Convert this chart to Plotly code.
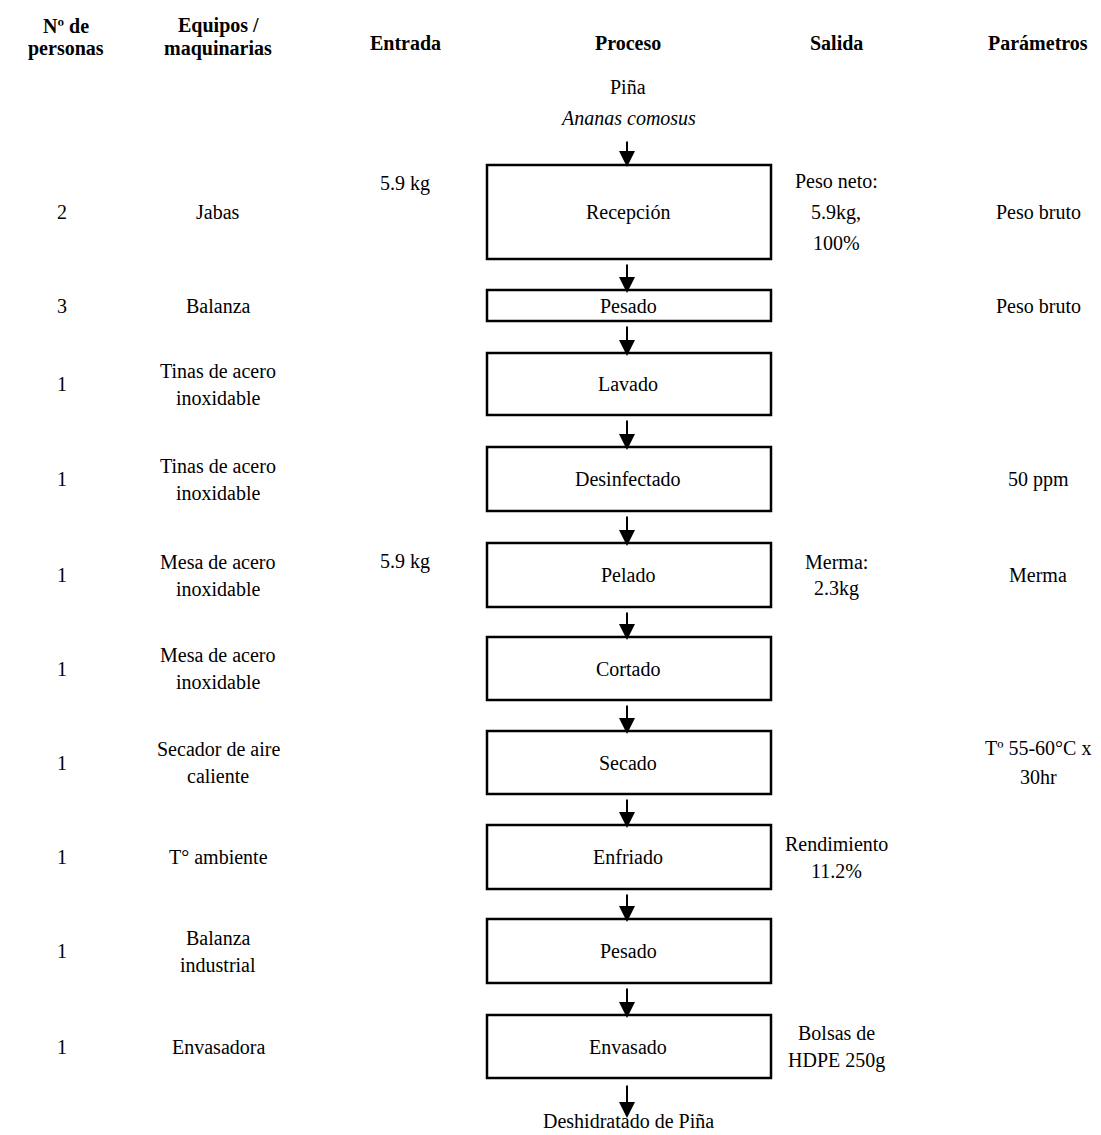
"""Diagrama de flujo: deshidratado de piña (Ananas comosus)."""
import plotly.graph_objects as go

# ---------------------------------------------------------------------------
# Data
# ---------------------------------------------------------------------------
headers = ["Nº de<br>personas", "Equipos /<br>maquinarias", "Entrada", "Proceso", "Salida", "Parámetros"]

steps = ["Recepción", "Pesado", "Lavado", "Desinfectado", "Pelado",
         "Cortado", "Secado", "Enfriado", "Pesado", "Envasado"]
box_top = [165, 290, 353, 447, 543, 637, 731, 825, 919, 1015]
box_bottom = [259, 321, 415, 511, 607, 700, 794, 889, 983, 1078]

personas = ["2", "3", "1", "1", "1", "1", "1", "1", "1", "1"]
equipos = ["Jabas", "Balanza", "Tinas de acero<br>inoxidable", "Tinas de acero<br>inoxidable",
           "Mesa de acero<br>inoxidable", "Mesa de acero<br>inoxidable",
           "Secador de aire<br>caliente", "T° ambiente", "Balanza<br>industrial", "Envasadora"]
entrada = ["5.9 kg", "", "", "", "5.9 kg", "", "", "", "", ""]
salida = ["Peso neto:<br>5.9kg,<br>100%", "", "", "", "Merma:<br>2.3kg", "", "",
          "Rendimiento<br>11.2%", "", "Bolsas de<br>HDPE 250g"]
parametros = ["Peso bruto", "Peso bruto", "", "50 ppm", "Merma", "",
              "Tº 55-60°C x<br>30hr", "", "", ""]

materia_prima = "Piña"
especie = "Ananas comosus"
producto = "Deshidratado de Piña"

# ---------------------------------------------------------------------------
# Layout constants
# ---------------------------------------------------------------------------
W, H = 1101, 1135
PAD = 8  # page body margin; shift the axis ranges so data coords == page pixels
FONT = "Liberation Serif, Times New Roman, serif"
FS = 20
col_x = [66, 218, 405, 628, 836, 1038]
box_x0, box_x1 = 487, 771
arrow_x = 627

fig = go.Figure()
ann = []


def txt(x, y, s, bold=False, italic=False, gap=None):
    """Centre a (possibly multi-line) label at x, y; gap = line spacing in px."""
    lines = s.split("<br>")
    if gap is None:
        gap = 27
    y0 = y - gap * (len(lines) - 1) / 2
    for k, line in enumerate(lines):
        t = line
        if bold:
            t = f"<b>{t}</b>"
        if italic:
            t = f"<i>{t}</i>"
        ann.append(dict(x=x, y=y0 + k * gap, xref="x", yref="y", text=t, showarrow=False,
                        font=dict(family=FONT, size=FS, color="black")))


def arrow(y0, y1):
    ann.append(dict(x=arrow_x, y=y1, ax=arrow_x, ay=y0, xref="x", yref="y",
                    axref="x", ayref="y", text="", showarrow=True,
                    arrowhead=2, arrowsize=1.6, arrowwidth=2, arrowcolor="black"))


# headers
for i, h in enumerate(headers):
    if "<br>" in h:
        txt(col_x[i], 37, h, bold=True, gap=23)
    else:
        txt(col_x[i], 43, h, bold=True)

# raw material
txt(col_x[3], 87, materia_prima)
txt(col_x[3], 118, especie, italic=True)
arrow(140, box_top[0] + 2)

# steps
for i, name in enumerate(steps):
    mid = (box_top[i] + box_bottom[i]) / 2
    fig.add_shape(type="rect", xref="x", yref="y", x0=box_x0, x1=box_x1,
                  y0=box_top[i], y1=box_bottom[i],
                  line=dict(color="black", width=2.5), fillcolor="rgba(0,0,0,0)")
    txt(col_x[3], mid, name)
    txt(col_x[0] - 4, mid, personas[i])
    txt(col_x[1], mid, equipos[i])
    if entrada[i]:
        txt(col_x[2], box_top[i] + 18, entrada[i])
    if salida[i]:
        txt(col_x[4], mid, salida[i], gap=31 if salida[i].count("<br>") > 1 else 27)
    if parametros[i]:
        txt(col_x[5], mid, parametros[i], gap=29)
    if i + 1 < len(steps):
        arrow(box_bottom[i] + 4, box_top[i + 1] + 3)

# final product
arrow(box_bottom[-1] + 6, 1118)
txt(col_x[3], 1121, producto)

fig.update_layout(
    width=W, height=H,
    margin=dict(l=0, r=0, t=0, b=0),
    paper_bgcolor="white", plot_bgcolor="white",
    showlegend=False,
    annotations=ann,
    xaxis=dict(range=[PAD, W + PAD], visible=False, fixedrange=True),
    yaxis=dict(range=[H + PAD, PAD], visible=False, fixedrange=True),
)

fig.write_html("out.html")
